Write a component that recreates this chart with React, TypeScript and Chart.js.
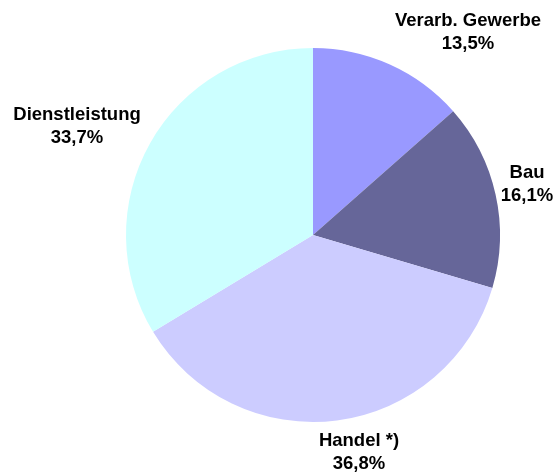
import React, { useEffect, useRef } from "react";
import { Chart, registerables } from "chart.js";

Chart.register(...registerables);

const categories = ["Verarb. Gewerbe", "Bau", "Handel *)", "Dienstleistung"];
const shares = [13.5, 16.1, 36.8, 33.7];
const shareLabels = ["13,5%", "16,1%", "36,8%", "33,7%"];
const colors = ["#9999FF", "#666699", "#CCCCFF", "#CCFFFF"];

// label centers relative to pie center (layout only)
const labelOffsets: [number, number][] = [
  [155, -203],
  [214, -51],
  [46, 217],
  [-236, -109],
];

const labelPlugin = {
  id: "outerLabels",
  afterDatasetsDraw(chart: any) {
    const ctx = chart.ctx;
    const meta = chart.getDatasetMeta(0);
    const arc0 = meta.data[0];
    if (!arc0) return;
    const cx = arc0.x;
    const cy = arc0.y;
    ctx.save();
    ctx.fillStyle = "#000000";
    ctx.font = "bold 18.5px 'Liberation Sans', Arial, sans-serif";
    ctx.textAlign = "center";
    ctx.textBaseline = "middle";
    categories.forEach((c, i) => {
      const [dx, dy] = labelOffsets[i];
      const x = cx + dx;
      const y = cy + dy;
      ctx.fillText(c, x, y - 11.5);
      ctx.fillText(shareLabels[i], x, y + 11.5);
    });
    ctx.restore();
  },
};

export default function App() {
  const ref = useRef<HTMLCanvasElement | null>(null);
  useEffect(() => {
    document.body.style.margin = "0";
    if (!ref.current) return;
    const chart = new Chart(ref.current, {
      type: "pie",
      data: {
        labels: categories,
        datasets: [
          {
            data: shares,
            backgroundColor: colors,
            borderWidth: 0,
          },
        ],
      },
      options: {
        animation: false,
        responsive: false,
        layout: { padding: { left: 126, right: 58, top: 48, bottom: 53 } },
        plugins: {
          legend: { display: false },
          tooltip: { enabled: false },
        },
      },
      plugins: [labelPlugin],
    });
    return () => chart.destroy();
  }, []);
  return (
    <div style={{ width: 558, height: 475, background: "#ffffff" }}>
      <canvas ref={ref} width={558} height={475} style={{ display: "block" }} />
    </div>
  );
}
